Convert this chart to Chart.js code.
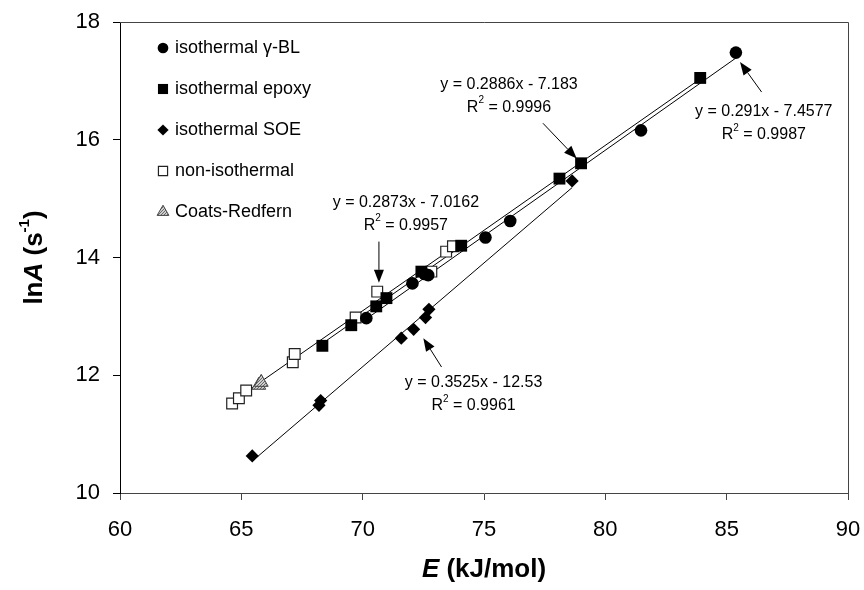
<!DOCTYPE html>
<html>
<head>
<meta charset="utf-8">
<script src="https://cdn.jsdelivr.net/npm/chart.js@4.4.0/dist/chart.umd.min.js"></script>
<style>
  html, body { margin: 0; padding: 0; background: #fff; }
  #wrap { width: 864px; height: 590px; }
</style>
</head>
<body>
<div id="wrap"><canvas id="arrheniusChart" width="864" height="590"></canvas></div>
<script>
// E (kJ/mol) / lnA (s-1) per series
const gblE      = [70.15, 72.05, 72.55, 72.7, 75.06, 76.08, 81.47, 85.38];
const gblLnA    = [12.97, 13.56, 13.72, 13.7, 14.34, 14.62, 16.16, 17.48];
const epoxyE    = [68.34, 69.53, 70.56, 70.98, 72.42, 74.06, 78.11, 79.0, 83.91];
const epoxyLnA  = [12.50, 12.85, 13.17, 13.31, 13.76, 14.20, 15.34, 15.60, 17.05];
const soeE      = [65.45, 68.2, 68.27, 71.59, 72.1, 72.59, 72.73, 78.63];
const soeLnA    = [10.63, 11.49, 11.57, 12.63, 12.78, 12.98, 13.12, 15.30];
const nonIsoE   = [64.62, 64.9, 65.2, 67.12, 67.2, 69.71, 70.6, 72.83, 73.44, 73.72];
const nonIsoLnA = [11.52, 11.61, 11.74, 12.22, 12.36, 12.98, 13.42, 13.76, 14.10, 14.19];
const coatsE    = [65.72, 65.82];
const coatsLnA  = [11.83, 11.88];

const seriesNames = ['isothermal \u03b3-BL', 'isothermal epoxy', 'isothermal SOE', 'non-isothermal', 'Coats-Redfern'];

// linear fits (γ-BL, epoxy, SOE, non-isothermal)
const fitSlope     = [0.291, 0.2886, 0.3525, 0.2873];
const fitIntercept = [-7.4577, -7.183, -12.53, -7.0162];
const fitR2        = ['0.9987', '0.9996', '0.9961', '0.9957'];
const fitFrom      = [70.15, 68.34, 65.45, 64.62];
const fitTo        = [85.38, 83.91, 78.63, 73.72];

const xTicks = [60, 65, 70, 75, 80, 85, 90];
const yTicks = [10, 12, 14, 16, 18];

const FONT = "'Liberation Sans', Arial, sans-serif";

// where each fit label sits and where its arrow points (axis units)
const fitLabels = [
  { e: 86.53, a: 16.47, from: [86.44, 16.81], to: [85.55, 17.32] },
  { e: 76.03, a: 16.94, from: [77.43, 16.28], to: [78.82, 15.68] },
  { e: 74.57, a: 11.87, from: [73.25, 12.14], to: [72.50, 12.63] },
  { e: 71.78, a: 14.94, from: [70.67, 14.27], to: [70.67, 13.57] }
];

function toPoints(xs, ys) {
  return xs.map((x, i) => ({ x: x, y: ys[i] }));
}

function fitLine(i) {
  return [fitFrom[i], fitTo[i]].map(x => ({ x: x, y: fitSlope[i] * x + fitIntercept[i] }));
}

function fitText(i) {
  const sign = fitIntercept[i] < 0 ? ' - ' : ' + ';
  return 'y = ' + fitSlope[i] + 'x' + sign + Math.abs(fitIntercept[i]);
}

// grey dotted fill for the Coats-Redfern triangles
function dotPattern() {
  const c = document.createElement('canvas');
  c.width = 3; c.height = 3;
  const g = c.getContext('2d');
  g.fillStyle = '#d0d0d0';
  g.fillRect(0, 0, 3, 3);
  g.fillStyle = '#6a6a6a';
  g.fillRect(0, 0, 1, 1);
  g.fillRect(2, 1, 1, 1);
  g.fillRect(1, 2, 1, 1);
  return g.createPattern(c, 'repeat');
}

const markerStyles = [
  { pointStyle: 'circle',  radius: 6.3, backgroundColor: '#000', borderColor: '#000', borderWidth: 0 },
  { pointStyle: 'rect',    radius: 8.4, backgroundColor: '#000', borderColor: '#000', borderWidth: 0 },
  { pointStyle: 'rectRot', radius: 6.6, backgroundColor: '#000', borderColor: '#000', borderWidth: 0 },
  { pointStyle: 'rect',    radius: 7.6, backgroundColor: '#fff', borderColor: '#222', borderWidth: 1.2 },
  { pointStyle: 'triangle', radius: 8, backgroundColor: dotPattern(), borderColor: '#444', borderWidth: 1 }
];

const seriesData = [
  toPoints(gblE, gblLnA),
  toPoints(epoxyE, epoxyLnA),
  toPoints(soeE, soeLnA),
  toPoints(nonIsoE, nonIsoLnA),
  toPoints(coatsE, coatsLnA)
];

const datasets = [];
seriesData.forEach((pts, i) => {
  const m = markerStyles[i];
  datasets.push({
    label: seriesNames[i],
    data: pts,
    showLine: false,
    pointStyle: m.pointStyle,
    pointRadius: m.radius,
    pointBackgroundColor: m.backgroundColor,
    pointBorderColor: m.borderColor,
    pointBorderWidth: m.borderWidth,
    order: 2 + i
  });
});
fitSlope.forEach((s, i) => {
  datasets.push({
    label: 'fit ' + i,
    data: fitLine(i),
    showLine: true,
    borderColor: '#000',
    borderWidth: 1,
    pointRadius: 0,
    fill: false,
    order: 20
  });
});

function arrow(ctx, x1, y1, x2, y2) {
  const ang = Math.atan2(y2 - y1, x2 - x1);
  const len = 13, half = 5;
  const bx = x2 - Math.cos(ang) * len, by = y2 - Math.sin(ang) * len;
  ctx.beginPath();
  ctx.moveTo(x1, y1);
  ctx.lineTo(bx, by);
  ctx.lineWidth = 1;
  ctx.strokeStyle = '#000';
  ctx.stroke();
  ctx.beginPath();
  ctx.moveTo(x2, y2);
  ctx.lineTo(bx - Math.sin(ang) * half, by + Math.cos(ang) * half);
  ctx.lineTo(bx + Math.sin(ang) * half, by - Math.cos(ang) * half);
  ctx.closePath();
  ctx.fillStyle = '#000';
  ctx.fill();
}

// "R²" line: R with a small raised 2
function drawR2(ctx, cx, cy, value) {
  const big = '16px ' + FONT, small = '10px ' + FONT;
  ctx.font = big;
  const wR = ctx.measureText('R').width;
  const wRest = ctx.measureText(' = ' + value).width;
  ctx.font = small;
  const w2 = ctx.measureText('2').width;
  let x = cx - (wR + w2 + wRest) / 2;
  ctx.textAlign = 'left';
  ctx.font = big;
  ctx.fillText('R', x, cy);
  x += wR;
  ctx.font = small;
  ctx.fillText('2', x, cy - 7);
  x += w2;
  ctx.font = big;
  ctx.fillText(' = ' + value, x, cy);
}

const decorPlugin = {
  id: 'decor',
  afterDatasetsDraw(chart) {
    const ctx = chart.ctx;
    const xs = chart.scales.x, ys = chart.scales.y;
    const area = chart.chartArea;
    ctx.save();

    // top and right frame
    ctx.strokeStyle = '#444';
    ctx.lineWidth = 1;
    ctx.beginPath();
    ctx.moveTo(area.left, area.top + 0.5);
    ctx.lineTo(area.right + 0.5, area.top + 0.5);
    ctx.lineTo(area.right + 0.5, area.bottom);
    ctx.stroke();

    // fit equations with arrows
    ctx.fillStyle = '#000';
    ctx.textBaseline = 'middle';
    fitLabels.forEach((lab, i) => {
      const cx = xs.getPixelForValue(lab.e), cy = ys.getPixelForValue(lab.a);
      ctx.font = '16px ' + FONT;
      ctx.textAlign = 'center';
      ctx.fillText(fitText(i), cx, cy);
      drawR2(ctx, cx, cy + 23, fitR2[i]);
      arrow(ctx,
        xs.getPixelForValue(lab.from[0]), ys.getPixelForValue(lab.from[1]),
        xs.getPixelForValue(lab.to[0]), ys.getPixelForValue(lab.to[1]));
    });

    // legend in the upper left of the plot
    const lx = area.left + 43, ly0 = area.top + 26, step = 41;
    seriesNames.forEach((name, i) => {
      const m = markerStyles[i];
      const y = ly0 + i * step;
      ctx.fillStyle = m.backgroundColor;
      ctx.strokeStyle = m.borderColor;
      ctx.lineWidth = m.borderWidth;
      Chart.helpers.drawPoint(ctx, {
        pointStyle: m.pointStyle,
        radius: m.radius * 0.85,
        rotation: 0,
        borderWidth: m.borderWidth
      }, lx, y);
      ctx.fillStyle = '#000';
      ctx.font = '18px ' + FONT;
      ctx.textAlign = 'left';
      ctx.textBaseline = 'middle';
      ctx.fillText(name, lx + 12, y);
    });

    // axis titles
    const bold = 'bold 26px ' + FONT, boldIt = 'italic bold 26px ' + FONT;
    ctx.textBaseline = 'middle';
    ctx.textAlign = 'left';
    const parts = [['E', boldIt], [' (kJ/mol)', bold]];
    let total = 0;
    parts.forEach(p => { ctx.font = p[1]; total += ctx.measureText(p[0]).width; });
    let x = (area.left + area.right) / 2 - total / 2;
    parts.forEach(p => {
      ctx.font = p[1];
      ctx.fillText(p[0], x, 570);
      x += ctx.measureText(p[0]).width;
    });

    ctx.translate(35, (area.top + area.bottom) / 2);
    ctx.rotate(-Math.PI / 2);
    const yParts = [['ln', bold, 0], ['A', boldIt, 0], [' (s', bold, 0], ['-1', 'bold 15px ' + FONT, -10], [')', bold, 0]];
    total = 0;
    yParts.forEach(p => { ctx.font = p[1]; total += ctx.measureText(p[0]).width; });
    x = -total / 2;
    yParts.forEach(p => {
      ctx.font = p[1];
      ctx.fillText(p[0], x, p[2]);
      x += ctx.measureText(p[0]).width;
    });

    ctx.restore();
  }
};

new Chart(document.getElementById('arrheniusChart'), {
  type: 'scatter',
  data: { datasets: datasets },
  options: {
    responsive: false,
    animation: false,
    events: [],
    layout: { padding: { top: 22, right: 16, left: 0, bottom: 0 } },
    plugins: {
      legend: { display: false },
      tooltip: { enabled: false }
    },
    scales: {
      x: {
        type: 'linear',
        min: 60,
        max: 90,
        afterBuildTicks: s => { s.ticks = xTicks.map(v => ({ value: v })); },
        // fixed plot box: no extra room for the end labels
        afterFit: s => { s.height = 97; s.paddingLeft = 0; s.paddingRight = 0; },
        border: { color: '#444', width: 1 },
        grid: { drawOnChartArea: false, color: '#444', tickLength: 7 },
        ticks: { color: '#000', padding: 17, font: { family: FONT, size: 22 } }
      },
      y: {
        type: 'linear',
        min: 10,
        max: 18,
        afterBuildTicks: s => { s.ticks = yTicks.map(v => ({ value: v })); },
        afterFit: s => { s.width = 120; s.paddingTop = 0; s.paddingBottom = 0; },
        border: { color: '#000', width: 1 },
        grid: { drawOnChartArea: false, color: '#000', tickLength: 7 },
        ticks: { color: '#000', padding: 13, font: { family: FONT, size: 22 } }
      }
    }
  },
  plugins: [decorPlugin]
});
</script>
</body>
</html>
